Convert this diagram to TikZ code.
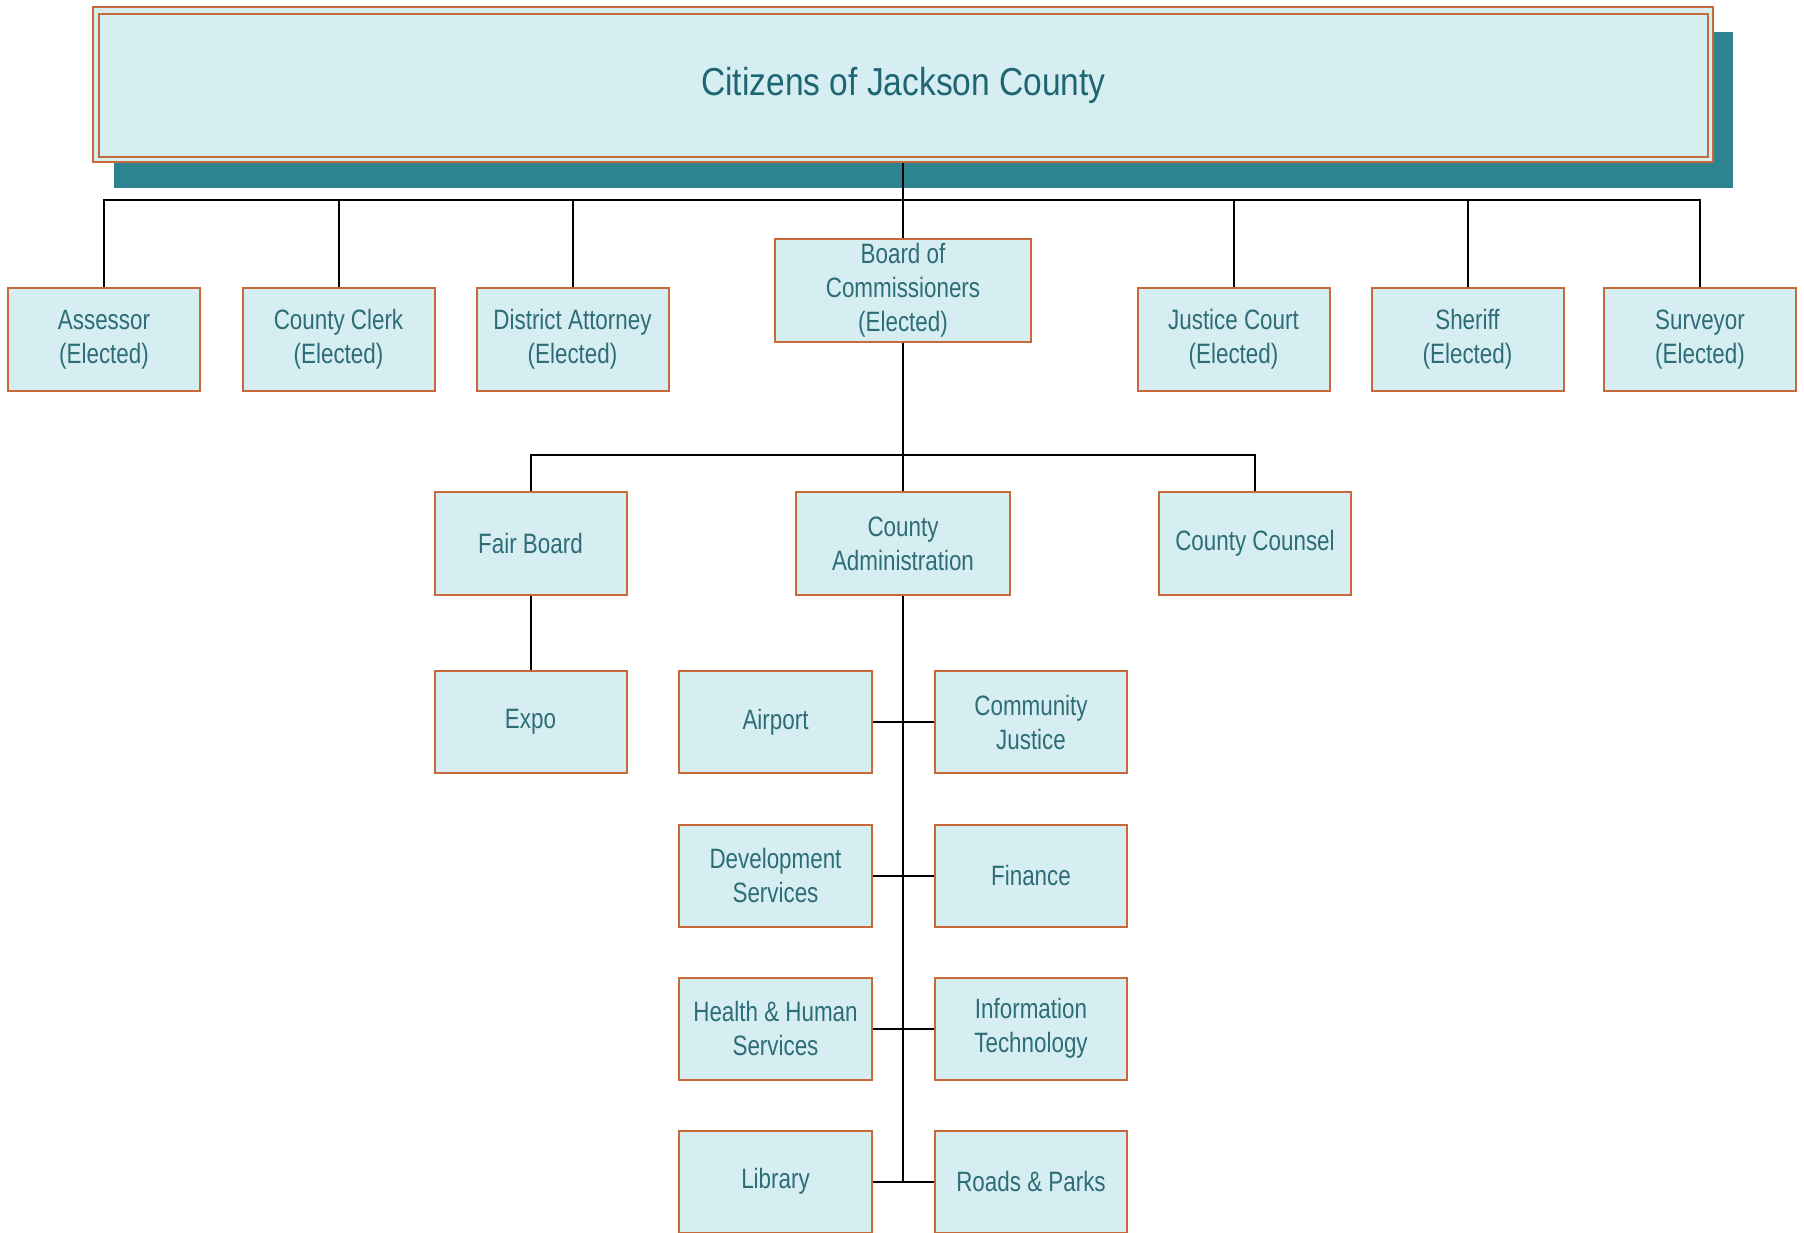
\documentclass[tikz,border=0pt]{standalone}
\usepackage{fontspec}
\setmainfont{Liberation Sans}
\newfontfamily\boxfont[FakeStretch=0.8]{Liberation Sans}
\newfontfamily\titlefont[FakeStretch=0.86]{Liberation Sans}
\definecolor{boxfill}{HTML}{D6EEF2}
\definecolor{boxline}{HTML}{C8693A}
\definecolor{shadowc}{HTML}{2E8390}
\definecolor{textc}{HTML}{2D6D77}
\definecolor{titlec}{HTML}{1F6673}
\tikzset{
  unit/.style={draw=boxline, line width=2pt, fill=boxfill, inner sep=0pt,
    minimum width=192pt, minimum height=102pt, align=center, text=textc,
    font=\boxfont\fontsize{28pt}{34pt}\selectfont},
  link/.style={draw=black, line width=2pt}
}
\begin{document}
\begin{tikzpicture}[x=1pt,y=-1pt]
\useasboundingbox[fill=white] (0,0) rectangle (1804,1233);
% title with shadow
\fill[shadowc] (114,32) rectangle (1733,188);
\node[draw=boxline, line width=2.2pt, fill=boxfill, inner sep=0pt,
  minimum width=1620pt, minimum height=155pt] (titleouter) at (903,84.5) {};
\node[draw=boxline, line width=2.2pt, inner sep=0pt,
  minimum width=1609pt, minimum height=143pt, text=titlec,
  font=\titlefont\fontsize{39pt}{44pt}\selectfont] (title) at (903.5,85.5) {Citizens of Jackson County};
% first row
\node[unit] (assessor) at (104,339.5) {Assessor\\(Elected)};
\node[unit] (clerk) at (338.5,339.5) {County Clerk\\(Elected)};
\node[unit] (da) at (572.5,339.5) {District Attorney\\(Elected)};
\node[unit, minimum width=256pt, minimum height=103pt] (board) at (903,290.5) {Board of\\Commissioners\\(Elected)};
\node[unit] (justice) at (1233.5,339.5) {Justice Court\\(Elected)};
\node[unit] (sheriff) at (1467.5,339.5) {Sheriff\\(Elected)};
\node[unit] (surveyor) at (1700,339.5) {Surveyor\\(Elected)};
% second row
\node[unit, minimum height=103pt] (fair) at (530.5,543.5) {Fair Board};
\node[unit, minimum width=214pt, minimum height=103pt] (admin) at (903,543.5) {County\\Administration};
\node[unit, minimum height=103pt] (counsel) at (1255,543.5) {County Counsel};
\node[unit] (expo) at (530.5,722) {Expo};
% departments
\node[unit, minimum width=193pt] (airport) at (775.5,722) {Airport};
\node[unit] (community) at (1031,722) {Community\\Justice};
\node[unit, minimum width=193pt] (devel) at (775.5,875.5) {Development\\Services};
\node[unit] (finance) at (1031,875.5) {Finance};
\node[unit, minimum width=193pt] (health) at (775.5,1028.5) {Health \& Human\\Services};
\node[unit] (infotech) at (1031,1028.5) {Information\\Technology};
\node[unit, minimum width=193pt] (library) at (775.5,1181.5) {Library};
\node[unit] (roads) at (1031,1181.5) {Roads \& Parks};
% connectors
\coordinate (bus1) at (903,200);
\coordinate (bus2) at (903,454.5);
\coordinate (spineend) at (903,1181.5);
\draw[link] (titleouter.south) -- (board.north);
\draw[link] (assessor.north) |- (bus1) -| (surveyor.north);
\draw[link] (clerk.north) -- (clerk.north |- bus1);
\draw[link] (da.north) -- (da.north |- bus1);
\draw[link] (justice.north) -- (justice.north |- bus1);
\draw[link] (sheriff.north) -- (sheriff.north |- bus1);
\draw[link] (board.south) -- (admin.north);
\draw[link] (fair.north) |- (bus2) -| (counsel.north);
\draw[link] (fair.south) -- (expo.north);
\draw[link] (admin.south) -- (spineend);
\draw[link] (airport.east) -- (community.west);
\draw[link] (devel.east) -- (finance.west);
\draw[link] (health.east) -- (infotech.west);
\draw[link] (library.east) -- (roads.west);
\end{tikzpicture}
\end{document}
